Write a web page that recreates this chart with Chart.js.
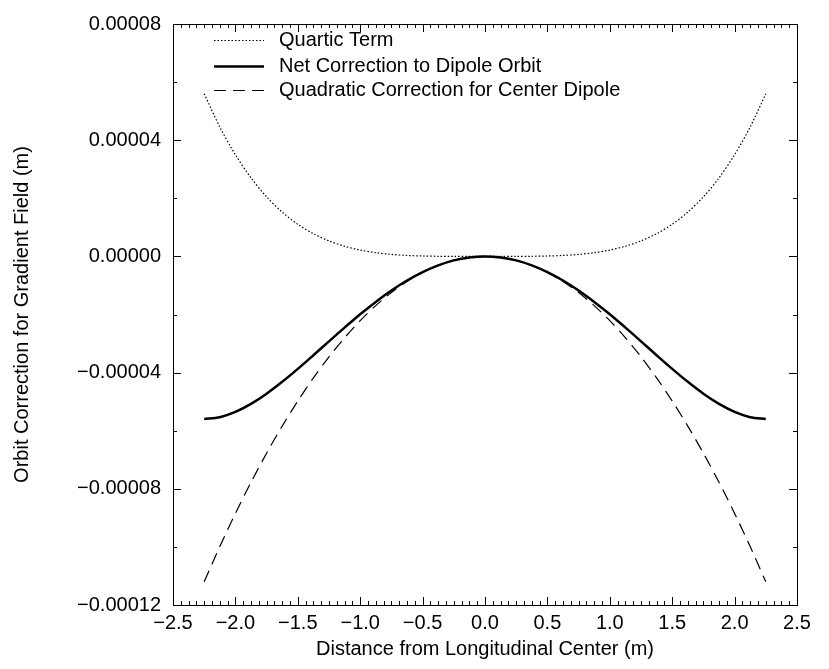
<!DOCTYPE html>
<html>
<head>
<meta charset="utf-8">
<script src="https://cdn.jsdelivr.net/npm/chart.js@4/dist/chart.umd.min.js"></script>
<style>
    html, body { margin: 0; padding: 0; background: #fff; }
    #wrap { width: 829px; height: 669px; }
</style>
</head>
<body>
<div id="wrap"><canvas id="orbit-chart" width="829" height="669"></canvas></div>
<script>
// Values
const xValues = [-2.25, -2.125, -2.0, -1.875, -1.75, -1.625, -1.5, -1.375, -1.25, -1.125,
    -1.0, -0.875, -0.75, -0.625, -0.5, -0.375, -0.25, -0.125, 0,
    0.125, 0.25, 0.375, 0.5, 0.625, 0.75, 0.875, 1.0,
    1.125, 1.25, 1.375, 1.5, 1.625, 1.75, 1.875, 2.0, 2.125, 2.25];

const quarticTerm = [5.6e-5, 4.455e-5, 3.5e-5, 2.701e-5, 2.05e-5, 1.524e-5, 1.106e-5, 7.81e-6, 5.33e-6, 3.5e-6,
    2.19e-6, 1.28e-6, 6.9e-7, 3.3e-7, 1.4e-7, 4e-8, 1e-8, 0, 0,
    0, 1e-8, 4e-8, 1.4e-7, 3.3e-7, 6.9e-7, 1.28e-6, 2.19e-6,
    3.5e-6, 5.33e-6, 7.81e-6, 1.106e-5, 1.524e-5, 2.05e-5, 2.701e-5, 3.5e-5, 4.455e-5, 5.6e-5];

const netCorrection = [-5.6e-5, -5.534e-5, -5.352e-5, -5.076e-5, -4.725e-5, -4.317e-5, -3.871e-5, -3.401e-5, -2.923e-5, -2.45e-5,
    -1.99e-5, -1.566e-5, -1.175e-5, -8.31e-6, -5.39e-6, -3.07e-6, -1.37e-6, -3.5e-7, 0,
    -3.5e-7, -1.37e-6, -3.07e-6, -5.39e-6, -8.31e-6, -1.175e-5, -1.566e-5, -1.99e-5,
    -2.45e-5, -2.923e-5, -3.401e-5, -3.871e-5, -4.317e-5, -4.725e-5, -5.076e-5, -5.352e-5, -5.534e-5, -5.6e-5];

const quadraticCorrection = [-1.12e-4, -9.989e-5, -8.848e-5, -7.777e-5, -6.774e-5, -5.841e-5, -4.977e-5, -4.182e-5, -3.456e-5, -2.8e-5,
    -2.212e-5, -1.694e-5, -1.244e-5, -8.64e-6, -5.53e-6, -3.11e-6, -1.38e-6, -3.5e-7, 0,
    -3.5e-7, -1.38e-6, -3.11e-6, -5.53e-6, -8.64e-6, -1.244e-5, -1.694e-5, -2.212e-5,
    -2.8e-5, -3.456e-5, -4.182e-5, -4.977e-5, -5.841e-5, -6.774e-5, -7.777e-5, -8.848e-5, -9.989e-5, -1.12e-4];

const seriesLabels = ['Quartic Term', 'Net Correction to Dipole Orbit', 'Quadratic Correction for Center Dipole'];

const xTicks = [-2.5, -2.0, -1.5, -1.0, -0.5, 0, 0.5, 1.0, 1.5, 2.0, 2.5];
const xTickLabels = ['\u22122.5', '\u22122.0', '\u22121.5', '\u22121.0', '\u22120.5', '0.0', '0.5', '1.0', '1.5', '2.0', '2.5'];
const yTicks = [-0.00012, -0.00008, -0.00004, 0, 0.00004, 0.00008];
const yTickLabels = ['\u22120.00012', '\u22120.00008', '\u22120.00004', '0.00000', '0.00004', '0.00008'];

const FONT = 'Liberation Sans, Arial, Helvetica, sans-serif';

function toPoints(values) {
    return xValues.map((x, i) => ({ x: x, y: values[i] }));
}

// frame + inward ticks on all four sides
const framePlugin = {
    id: 'frame',
    afterDraw(chart) {
        const { ctx, chartArea: a, scales } = chart;
        const xs = scales.x, ys = scales.y;
        ctx.save();
        ctx.strokeStyle = '#000';
        ctx.lineWidth = 1;
        ctx.strokeRect(a.left + 0.5, a.top + 0.5, a.right - a.left, a.bottom - a.top);

        ctx.beginPath();
        // x minor ticks (8 per major interval)
        for (let i = 0; i < xTicks.length - 1; i++) {
            const step = (xTicks[i + 1] - xTicks[i]) / 8;
            for (let k = 1; k < 8; k++) {
                const px = Math.round(xs.getPixelForValue(xTicks[i] + k * step)) + 0.5;
                ctx.moveTo(px, a.bottom); ctx.lineTo(px, a.bottom - 4);
                ctx.moveTo(px, a.top); ctx.lineTo(px, a.top + 4);
            }
        }
        xTicks.forEach(v => {
            const px = Math.round(xs.getPixelForValue(v)) + 0.5;
            ctx.moveTo(px, a.bottom); ctx.lineTo(px, a.bottom - 8);
            ctx.moveTo(px, a.top); ctx.lineTo(px, a.top + 8);
        });
        // y ticks, one minor between majors
        for (let i = 0; i < yTicks.length - 1; i++) {
            const mid = (yTicks[i] + yTicks[i + 1]) / 2;
            const py = Math.round(ys.getPixelForValue(mid)) + 0.5;
            ctx.moveTo(a.left, py); ctx.lineTo(a.left + 4, py);
            ctx.moveTo(a.right, py); ctx.lineTo(a.right - 4, py);
        }
        yTicks.forEach(v => {
            const py = Math.round(ys.getPixelForValue(v)) + 0.5;
            ctx.moveTo(a.left, py); ctx.lineTo(a.left + 8, py);
            ctx.moveTo(a.right, py); ctx.lineTo(a.right - 8, py);
        });
        ctx.stroke();
        ctx.restore();
    }
};

// legend drawn inside the plot, top left
const insideLegend = {
    id: 'insideLegend',
    afterDraw(chart) {
        const { ctx, chartArea: a } = chart;
        ctx.save();
        ctx.font = '20px ' + FONT;
        ctx.fillStyle = '#000';
        ctx.textBaseline = 'middle';
        const rows = [40, 66, 90];
        chart.data.datasets.forEach((ds, i) => {
            const y = rows[i] + 0.5;
            ctx.beginPath();
            ctx.setLineDash(ds.borderDash || []);
            ctx.lineWidth = ds.borderWidth;
            ctx.strokeStyle = ds.borderColor;
            ctx.moveTo(a.left + 41, y);
            ctx.lineTo(a.left + 91, y);
            ctx.stroke();
            ctx.setLineDash([]);
            ctx.fillText(ds.label, a.left + 106, y);
        });
        ctx.restore();
    }
};

new Chart(document.getElementById('orbit-chart'), {
    type: 'line',
    data: {
        datasets: [
            {
                label: seriesLabels[0],
                data: toPoints(quarticTerm),
                borderColor: '#000',
                borderWidth: 1.2,
                borderDash: [1.5, 2],
                pointRadius: 0,
                tension: 0.3
            },
            {
                label: seriesLabels[1],
                data: toPoints(netCorrection),
                borderColor: '#000',
                borderWidth: 2.5,
                pointRadius: 0,
                tension: 0.3
            },
            {
                label: seriesLabels[2],
                data: toPoints(quadraticCorrection),
                borderColor: '#000',
                borderWidth: 1.2,
                borderDash: [12, 7],
                pointRadius: 0,
                tension: 0.3
            }
        ]
    },
    options: {
        responsive: false,
        animation: false,
        layout: { padding: { top: 16, right: 32, left: 0, bottom: 0 } },
        plugins: {
            legend: { display: false },
            tooltip: { enabled: false }
        },
        scales: {
            x: {
                type: 'linear',
                min: -2.5,
                max: 2.5,
                grid: { display: false, drawTicks: false },
                border: { display: false },
                afterBuildTicks(scale) {
                    scale.ticks = xTicks.map(v => ({ value: v }));
                },
                afterFit(scale) { scale.height = 64; },
                ticks: {
                    color: '#000',
                    padding: 6,
                    maxRotation: 0,
                    font: { family: FONT, size: 20 },
                    callback: (v, i) => xTickLabels[i]
                },
                title: {
                    display: true,
                    text: 'Distance from Longitudinal Center (m)',
                    color: '#000',
                    font: { family: FONT, size: 20 },
                    padding: { top: 0, bottom: 8 }
                }
            },
            y: {
                type: 'linear',
                min: -0.00012,
                max: 0.00008,
                grid: { display: false, drawTicks: false },
                border: { display: false },
                afterBuildTicks(scale) {
                    scale.ticks = yTicks.map(v => ({ value: v }));
                },
                afterFit(scale) { scale.width = 173; },
                ticks: {
                    color: '#000',
                    padding: 12,
                    font: { family: FONT, size: 20 },
                    callback: (v, i) => yTickLabels[i]
                },
                title: {
                    display: true,
                    text: 'Orbit Correction for Gradient Field (m)',
                    color: '#000',
                    font: { family: FONT, size: 20 },
                    padding: { top: 10, bottom: 0 }
                }
            }
        }
    },
    plugins: [framePlugin, insideLegend]
});
</script>
</body>
</html>
